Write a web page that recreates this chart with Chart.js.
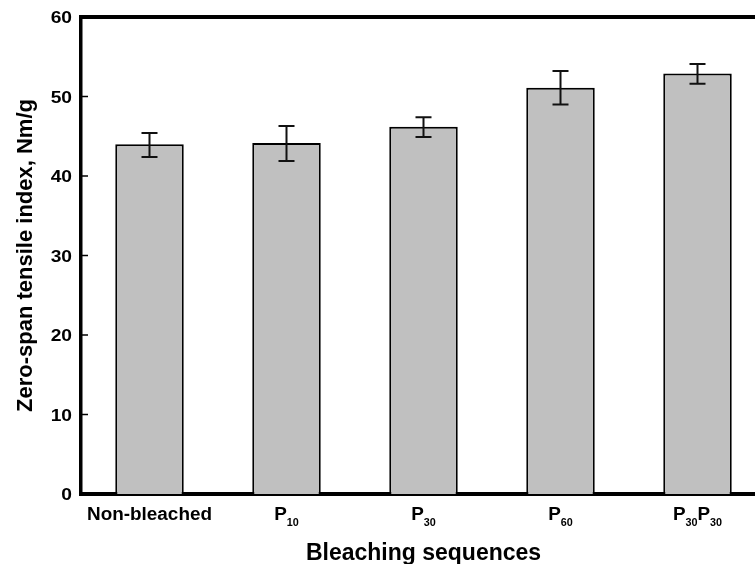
<!DOCTYPE html>
<html>
<head>
<meta charset="utf-8">
<script src="https://cdn.jsdelivr.net/npm/chart.js@4"></script>
<style>
html,body{margin:0;padding:0;background:#fff;overflow:hidden;}
#wrap{width:770px;height:564px;}
</style>
</head>
<body>
<div id="wrap"><canvas id="c" width="770" height="564"></canvas></div>
<script>
// categories: base letter + subscript parts
var labelParts = [
    [['Non-bleached','']],
    [['P','10']],
    [['P','30']],
    [['P','60']],
    [['P','30'],['P','30']]
];
var categories = ['Non-bleached','P10','P30','P60','P30P30'];
var means = [44.0, 44.15, 46.2, 51.1, 52.9];
var errLow = [42.4, 41.9, 44.9, 49.0, 51.6];
var errHigh = [45.4, 46.3, 47.4, 53.2, 54.1];
var yTicks = [0,10,20,30,40,50,60];
var xTitle = 'Bleaching sequences';
var yTitle = 'Zero-span tensile index, Nm/g';

var FONT = 'Liberation Sans, Arial, sans-serif';

var decor = {
    id:'decor',
    afterDatasetsDraw:function(chart){
        var ctx = chart.ctx, x = chart.scales.x, y = chart.scales.y, a = chart.chartArea;
        ctx.save();
        // error bars
        ctx.strokeStyle = '#111';
        ctx.lineWidth = 2;
        for(var i=0;i<means.length;i++){
            var cx = x.getPixelForValue(i);
            var t = y.getPixelForValue(errHigh[i]), b = y.getPixelForValue(errLow[i]);
            ctx.beginPath();
            ctx.moveTo(cx,t); ctx.lineTo(cx,b);
            ctx.moveTo(cx-8,t); ctx.lineTo(cx+8,t);
            ctx.moveTo(cx-8,b); ctx.lineTo(cx+8,b);
            ctx.stroke();
        }
        // inward ticks on y axis + tick labels
        ctx.strokeStyle = '#000';
        ctx.fillStyle = '#000';
        ctx.lineWidth = 1.5;
        yTicks.forEach(function(v){
            var py = y.getPixelForValue(v);
            ctx.beginPath(); ctx.moveTo(a.left, py); ctx.lineTo(a.left+7, py); ctx.stroke();
            ctx.save();
            ctx.translate(a.left-9, py+2);
            ctx.scale(1.2,1);
            ctx.font = 'bold 16px '+FONT;
            ctx.textAlign = 'right';
            ctx.textBaseline = 'middle';
            ctx.fillText(String(v), 0, 0);
            ctx.restore();
        });
        // top frame line
        ctx.lineWidth = 4;
        ctx.beginPath(); ctx.moveTo(a.left-1.5, a.top); ctx.lineTo(a.right+10, a.top); ctx.stroke();
        // x tick labels with subscripts
        var sx = 1.08;
        labelParts.forEach(function(parts, i){
            var big = 'bold 17.5px '+FONT, small = 'bold 10px '+FONT;
            var w = 0;
            parts.forEach(function(p){
                ctx.font = big; w += ctx.measureText(p[0]).width;
                ctx.font = small; w += ctx.measureText(p[1]).width;
            });
            ctx.save();
            ctx.translate(x.getPixelForValue(i), 520);
            ctx.scale(sx,1);
            var px = -w/2;
            ctx.textAlign = 'left';
            ctx.textBaseline = 'alphabetic';
            parts.forEach(function(p){
                ctx.font = big; ctx.fillText(p[0], px, 0); px += ctx.measureText(p[0]).width;
                ctx.font = small; ctx.fillText(p[1], px, 6); px += ctx.measureText(p[1]).width;
            });
            ctx.restore();
        });
        // axis titles
        ctx.save();
        ctx.font = 'bold 23px '+FONT;
        ctx.textAlign = 'center';
        ctx.textBaseline = 'alphabetic';
        ctx.fillText(xTitle, (a.left+a.right)/2, 560);
        ctx.restore();
        ctx.save();
        ctx.translate(32, (a.top+a.bottom)/2);
        ctx.rotate(-Math.PI/2);
        ctx.font = 'bold 22px '+FONT;
        ctx.textAlign = 'center';
        ctx.textBaseline = 'alphabetic';
        ctx.fillText(yTitle, 0, 0);
        ctx.restore();
        ctx.restore();
    }
};

new Chart(document.getElementById('c').getContext('2d'),{
    type:'bar',
    data:{labels:categories,datasets:[{
        label:'Zero-span tensile index',
        data:means,
        backgroundColor:'#c0c0c0',
        borderColor:'#000',
        borderWidth:2,
        categoryPercentage:1,
        barPercentage:0.5
    }]},
    options:{
        responsive:false,
        animation:false,
        layout:{padding:{top:17,right:4,left:0,bottom:0}},
        plugins:{legend:{display:false},tooltip:{enabled:false}},
        scales:{
            x:{
                grid:{display:false},
                border:{color:'#000',width:4},
                ticks:{display:false},
                afterFit:function(s){s.height=70;}
            },
            y:{
                min:0,max:60,
                grid:{display:false,drawTicks:false},
                border:{color:'#000',width:3.5},
                ticks:{display:false,stepSize:10},
                afterFit:function(s){s.width=81;}
            }
        }
    },
    plugins:[decor]
});
</script>
</body>
</html>
